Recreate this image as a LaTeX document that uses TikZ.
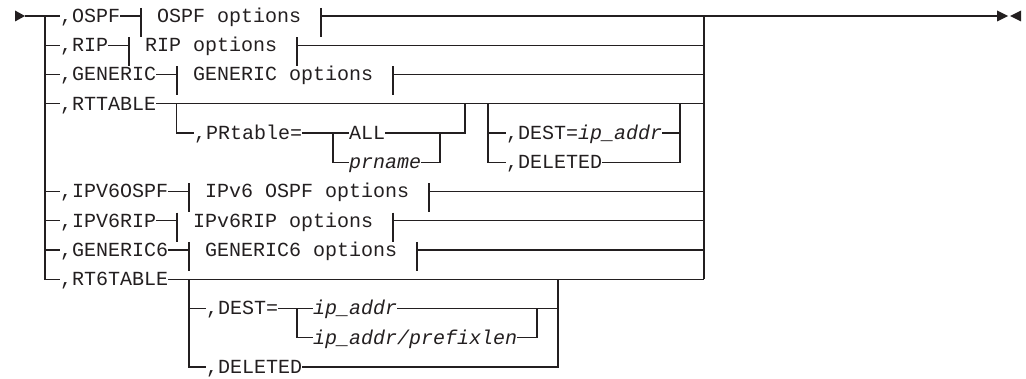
\documentclass[tikz,border=0pt]{standalone}
\usepackage{fontspec}
\setmonofont{Liberation Mono}
\definecolor{ink}{RGB}{35,31,32}
\begin{document}
\begin{tikzpicture}[x=1pt,y=-1pt,
  rail/.style={line width=1.2pt, draw=ink},
  kw/.style={inner sep=0pt, text height=13pt, text depth=0pt, anchor=west,
    font=\fontsize{20}{24}\selectfont\ttfamily, text=ink},
  var/.style={kw, font=\fontsize{20}{24}\selectfont\ttfamily\itshape},
  tip/.style={fill=ink, draw=none}]
\useasboundingbox (0,0) rectangle (1026,379);

% main keywords
\node[kw] (ospf) at (60,16) {,OSPF};
\node[kw] (rip) at (60,45.25) {,RIP};
\node[kw] (gen) at (60,74.5) {,GENERIC};
\node[kw] (rtt) at (60,103.75) {,RTTABLE};
\node[kw] (v6o) at (60,191.5) {,IPV6OSPF};
\node[kw] (v6r) at (60,220.75) {,IPV6RIP};
\node[kw] (gen6) at (60,250) {,GENERIC6};
\node[kw] (rt6) at (60,279.25) {,RT6TABLE};

% fragment texts
\node[kw] (ospfo) at (157,16) {OSPF options};
\node[kw] (ripo) at (145,45.25) {RIP options};
\node[kw] (geno) at (193,74.5) {GENERIC options};
\node[kw] (v6oo) at (205,191.5) {IPv6 OSPF options};
\node[kw] (v6ro) at (193,220.75) {IPv6RIP options};
\node[kw] (gen6o) at (205,250) {GENERIC6 options};

% RTTABLE sub-options
\node[kw] (prt) at (194,133) {,PRtable=};
\node[kw] (all) at (349,133) {ALL};
\node[var] (prn) at (349,162.25) {prname};
\node[kw] (dest) at (506,133) {,DEST=\textit{ip\_addr}};
\node[kw] (del) at (506,162.25) {,DELETED};

% RT6TABLE sub-options
\node[kw] (dest6) at (206,308.5) {,DEST=};
\node[var] (ip) at (313,308.5) {ip\_addr};
\node[var] (ipp) at (313,337.75) {ip\_addr/prefixlen};
\node[kw] (del6) at (206,367) {,DELETED};

% coordinates
\coordinate (S) at (25,16);
\coordinate (L1) at (45,16);
\coordinate (L10) at (45,279.25);
\coordinate (J1) at (704,16);
\coordinate (J10) at (704,279.25);
\coordinate (E) at (997,16);

\coordinate (ospfL) at (141,16);  \coordinate (ospfR) at (321,16);
\coordinate (ripL) at (129,45.25); \coordinate (ripR) at (297,45.25);
\coordinate (genL) at (177,74.5); \coordinate (genR) at (393,74.5);
\coordinate (v6oL) at (189,191.5); \coordinate (v6oR) at (429,191.5);
\coordinate (v6rL) at (177,220.75); \coordinate (v6rR) at (393,220.75);
\coordinate (gen6L) at (189,250); \coordinate (gen6R) at (417,250);

\coordinate (P1) at (176.5,103.75);
\coordinate (A1) at (333,133);
\coordinate (A2) at (465,103.75);
\coordinate (A3) at (440,133);
\coordinate (D1) at (488,103.75);
\coordinate (D2) at (680,103.75);

\coordinate (R1) at (189,279.25);
\coordinate (R2) at (558,279.25);
\coordinate (V1) at (297,308.5);
\coordinate (V2) at (537,308.5);

% arrows
\fill[tip] (15,10.5) -- (25,16) -- (15,21.5) -- cycle;
\fill[tip] (E) ++(0,-5.5) -- ++(11,5.5) -- ++(-11,5.5) -- cycle;
\fill[tip] (1021,10.5) -- (1010,16) -- (1021,21.5) -- cycle;

% main rails
\draw[rail] (S) -- (ospf.west);
\draw[rail] (L1) -- (L10) -- (rt6.west);
\foreach \n in {rip,gen,rtt,v6o,v6r,gen6}
  \draw[rail] (L1 |- \n.west) -- (\n.west);
\draw[rail] (J1) -- (J10);
\draw[rail] (rt6.east) -- (J10);
\draw[rail] (rtt.east) -- (J1 |- rtt.east);

% fragments
\foreach \n in {ospf,rip,gen,v6o,v6r,gen6} {
  \draw[rail] (\n.east) -- (\n L);
  \draw[rail] (\n L) ++(0,-8) -- ++(0,29);
  \draw[rail] (\n R) ++(0,-8) -- ++(0,29);
}
\draw[rail] (ospfR) -- (E);
\foreach \n in {rip,gen,v6o,v6r,gen6}
  \draw[rail] (\n R) -- (J1 |- \n R);

% RTTABLE group
\draw[rail] (P1) |- (prt.west);
\draw[rail] (prt.east) -- (A1) -- (all.west);
\draw[rail] (A1) |- (prn.west);
\draw[rail] (all.east) -| (A2);
\draw[rail] (prn.east) -| (A3);
\draw[rail] (D1) |- (del.west);
\draw[rail] (D1 |- dest.west) -- (dest.west);
\draw[rail] (dest.east) -- (D2 |- dest.east);
\draw[rail] (del.east) -| (D2);

% RT6TABLE group
\draw[rail] (R1) |- (del6.west);
\draw[rail] (R1 |- dest6.west) -- (dest6.west);
\draw[rail] (dest6.east) -- (V1) -- (ip.west);
\draw[rail] (V1) |- (ipp.west);
\draw[rail] (ip.east) -- (R2 |- ip.east);
\draw[rail] (ipp.east) -| (V2);
\draw[rail] (del6.east) -| (R2);
\end{tikzpicture}
\end{document}
